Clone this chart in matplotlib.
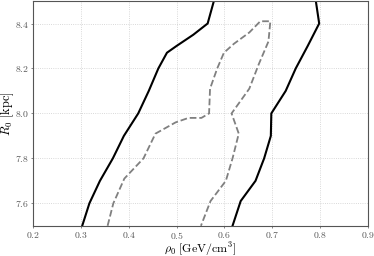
import matplotlib
matplotlib.use("Agg")
import matplotlib.pyplot as plt
import numpy as np

plt.rcParams['font.family'] = 'serif'
plt.rcParams['font.serif'] = ['cmr10']
plt.rcParams['mathtext.fontset'] = 'cm'
plt.rcParams['axes.formatter.use_mathtext'] = True

# outer (solid) contour, left and right branches
outer_left_rho = [0.303, 0.318, 0.340, 0.367, 0.390, 0.420, 0.442, 0.462, 0.480, 0.500, 0.535, 0.565, 0.578]
outer_left_R = [7.50, 7.60, 7.70, 7.80, 7.90, 8.00, 8.10, 8.20, 8.27, 8.30, 8.35, 8.40, 8.50]
outer_right_rho = [0.617, 0.634, 0.665, 0.683, 0.697, 0.698, 0.728, 0.749, 0.774, 0.798, 0.791]
outer_right_R = [7.50, 7.61, 7.70, 7.80, 7.90, 8.00, 8.10, 8.20, 8.30, 8.40, 8.50]

# inner (dashed) contour
inner_rho = [0.356, 0.368, 0.391, 0.431, 0.456, 0.498, 0.525, 0.552, 0.568, 0.570, 0.585,
             0.599, 0.620, 0.652, 0.675, 0.696, 0.692, 0.672, 0.652, 0.615, 0.630,
             0.617, 0.603, 0.571, 0.551]
inner_R = [7.50, 7.60, 7.71, 7.80, 7.91, 7.96, 7.98, 7.98, 8.00, 8.11, 8.20,
           8.27, 8.31, 8.36, 8.41, 8.41, 8.32, 8.22, 8.11, 8.00, 7.91,
           7.80, 7.70, 7.61, 7.50]

fig = plt.figure(figsize=(3.74, 2.56), dpi=100)
ax = fig.add_axes([0.088, 0.118, 0.896, 0.878])

ax.plot(outer_left_rho, outer_left_R, color='black', lw=1.5)
ax.plot(outer_right_rho, outer_right_R, color='black', lw=1.5)
ax.plot(inner_rho, inner_R, color='gray', lw=1.3, ls='--')

ax.set_xlim(0.2, 0.9)
ax.set_ylim(7.5, 8.5)
ax.set_xticks(np.arange(0.2, 0.91, 0.1))
ax.set_yticks([7.6, 7.8, 8.0, 8.2, 8.4])
ax.grid(True, color='#cccccc', ls=':', lw=0.6)
for s in ax.spines.values():
    s.set_color('#555555')
    s.set_linewidth(0.8)
ax.tick_params(labelsize=7, colors='#555555', length=1.5, width=0.5, labelcolor='#555555', pad=1.5)

ax.set_xlabel(r'$\rho_0\ [\mathrm{GeV}/\mathrm{cm}^3]$', fontsize=8.6)
ax.set_ylabel(r'$R_0\ [\mathrm{kpc}]$', fontsize=9)
ax.xaxis.set_label_coords(0.5, -0.062)
ax.yaxis.set_label_coords(-0.05, 0.5)

fig.savefig('out.png', dpi=100)
